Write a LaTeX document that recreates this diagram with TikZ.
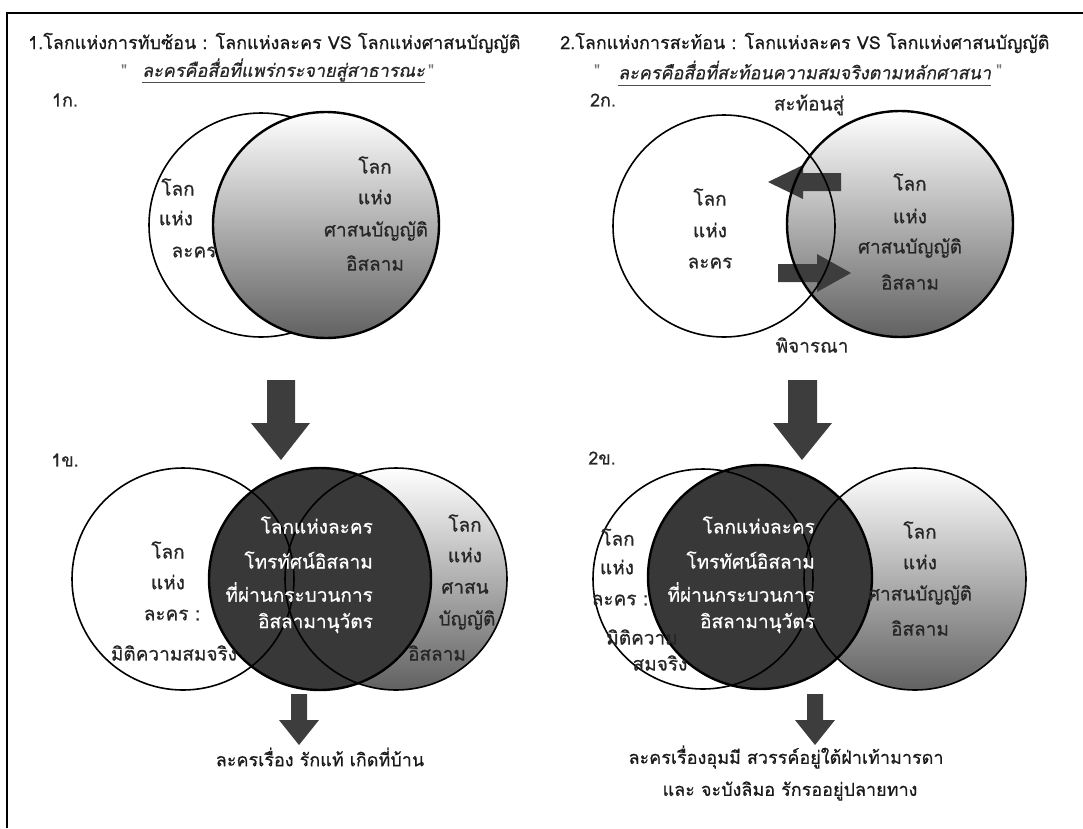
\documentclass[tikz,border=0pt]{standalone}
\usepackage{fontspec}
\newfontfamily\thf[Script=Thai,FakeBold=0.6]{Loma}
\newfontfamily\thfi[Script=Thai,FakeSlant=0.2,FakeBold=0.6]{Loma}
\begin{document}
\begin{tikzpicture}[x=1pt,y=-1pt,
  lab/.style={font=\thf\fontsize{19}{22}\selectfont, inner sep=0, text=black!85},
  wlab/.style={lab, text=white},
  head/.style={font=\thf\fontsize{18}{22}\selectfont, inner sep=0, anchor=west, text=black!90},
  sub/.style={font=\thfi\fontsize{18}{22}\selectfont, inner sep=0, text=black!85},
  quo/.style={font=\thf\fontsize{16}{19}\selectfont, inner sep=0, text=black!55},
  tag/.style={font=\thf\fontsize{18}{20}\selectfont, inner sep=0, text=black!85},
  btm/.style={font=\thf\fontsize{18}{22}\selectfont, inner sep=0, text=black!90},
  thin/.style={line width=1.6pt},
  thick/.style={line width=2.4pt},
  grayshade/.style={top color=white, bottom color=black!62},
  darkfill/.style={fill=black!78},
  blk/.style={fill=black!76, draw=none}
]
\useasboundingbox (0,0) rectangle (1083,828);
\draw[line width=2.5pt] (7,828) -- (7,13) -- (1083,13);

% headings
\node[head] (h1) at (28,43) {1.โลกแห่งการทับซ้อน : โลกแห่งละคร VS โลกแห่งศาสนบัญญัติ};
\node[head] (h2) at (560,43) {2.โลกแห่งการสะท้อน : โลกแห่งละคร VS โลกแห่งศาสนบัญญัติ};
\node[sub, anchor=west] (s1) at (142,70) {ละครคือสื่อที่แพร่กระจายสู่สาธารณะ};
\node[sub, anchor=west] (s2) at (618,70) {ละครคือสื่อที่สะท้อนความสมจริงตามหลักศาสนา};
\draw[line width=1pt, black!70] ([yshift=-6pt]s1.base west) -- ([yshift=-6pt]s1.base east);
\draw[line width=1pt, black!70] ([yshift=-6pt]s2.base west) -- ([yshift=-6pt]s2.base east);
\node[quo] (q1a) at (124,70) {"};
\node[quo] (q1b) at (431,70) {"};
\node[quo] (q2a) at (597,70) {"};
\node[quo] (q2b) at (999,70) {"};

\node[tag] (t1a) at (65,100) {1ก.};
\node[tag] (t2a) at (603,100) {2ก.};
\node[tag] (t1b) at (65,460) {1ข.};
\node[tag] (t2b) at (602,458) {2ข.};

% ---------- 1ก
\coordinate (A1) at (261,225);
\coordinate (A2) at (326,225);
\fill[white] (A1) circle (112);
\draw[thin] (A1) circle (112);
\shade[grayshade] (A2) circle (113);
\draw[thick] (A2) circle (113);
\node[lab] (a1l1) at (178,187) {โลก};
\node[lab] (a1l2) at (176,218) {แห่ง};
\node[lab] (a1l3) at (194,252) {ละคร};
\node[lab] (a2l1) at (375,165) {โลก};
\node[lab] (a2l2) at (375,197) {แห่ง};
\node[lab] (a2l3) at (376,231) {ศาสนบัญญัติ};
\node[lab] (a2l4) at (375,263) {อิสลาม};

% ---------- 2ก
\coordinate (B1) at (724,226);
\coordinate (B2) at (900,224);
\shade[grayshade] (B2) circle (113);
\fill[blk] (841,173) -- (803,173) -- (803,165) -- (768,182) -- (803,199) -- (803,191) -- (841,191) -- cycle;
\fill[blk] (778,264) -- (817,264) -- (817,254) -- (851,273) -- (817,292) -- (817,282) -- (778,282) -- cycle;
\draw[thin] (B1) circle (111);
\draw[thick] (B2) circle (113);
\node[lab] (b1l1) at (710,197) {โลก};
\node[lab] (b1l2) at (710,230) {แห่ง};
\node[lab] (b1l3) at (710,263) {ละคร};
\node[lab] (b2l1) at (910,182) {โลก};
\node[lab] (b2l2) at (910,216) {แห่ง};
\node[lab] (b2l3) at (910,248) {ศาสนบัญญัติ};
\node[lab] (b2l4) at (910,282) {อิสลาม};
\node[lab] (up) at (809,105) {สะท้อนสู่};
\node[lab] (dn) at (812,345) {พิจารณา};

% big arrows
\coordinate (AR1) at (281,380);
\coordinate (AR2) at (802,380);
\fill[blk] (AR1) ++(-14,0) -- ++(28,0) -- ++(0,43) -- ++(15,0) -- ++(-29,37) -- ++(-30,-37) -- ++(16,0) -- cycle;
\fill[blk] (AR2) ++(-14,0) -- ++(29,0) -- ++(0,43) -- ++(15,0) -- ++(-30,37) -- ++(-29,-37) -- ++(15,0) -- cycle;

% ---------- 1ข
\coordinate (C1) at (183,579);
\coordinate (C2) at (320,579);
\coordinate (C3) at (396,579);
\fill[white] (C1) circle (111);
\shade[grayshade] (C3) circle (111);
\fill[darkfill] (C2) circle (111);
\draw[thin] (C1) circle (111);
\draw[thin] (C3) circle (111);
\draw[thick] (C2) circle (111);
\node[lab] (c1l1) at (168,550) {โลก};
\node[lab] (c1l2) at (168,582) {แห่ง};
\node[lab] (c1l3) at (172,615) {ละคร :};
\node[lab] (c1l4) at (174,653) {มิติความสมจริง};
\node[wlab, anchor=east] (c2l1) at (373,525) {โลกแห่งละคร};
\node[wlab, anchor=east] (c2l2) at (373,560) {โทรทัศน์อิสลาม};
\node[wlab, anchor=east] (c2l3) at (373,592) {ที่ผ่านกระบวนการ};
\node[wlab, anchor=east] (c2l4) at (373,623) {อิสลามานุวัตร};
\node[lab] (c3l1) at (465,523) {โลก};
\node[lab] (c3l2) at (465,555) {แห่ง};
\node[lab] (c3l3) at (465,588) {ศาสน};
\node[lab] (c3l4) at (467,620) {บัญญัติ};
\node[lab] (c3l5) at (437,653) {อิสลาม};

% ---------- 2ข
\coordinate (D1) at (703,579);
\coordinate (D2) at (760,577);
\coordinate (D3) at (915,579);
\fill[white] (D1) circle (110);
\shade[grayshade] (D3) circle (111);
\fill[darkfill] (D2) circle (112);
\draw[thin] (D1) circle (110);
\draw[thin] (D3) circle (111);
\draw[thick] (D2) circle (112);
\node[lab] (d1l1) at (618,537) {โลก};
\node[lab] (d1l2) at (617,567) {แห่ง};
\node[lab] (d1l3) at (620,600) {ละคร :};
\node[lab] (d1l4) at (642,637) {มิติความ};
\node[lab] (d1l5) at (660,663) {สมจริง};
\node[wlab, anchor=east] (d2l1) at (815,525) {โลกแห่งละคร};
\node[wlab, anchor=east] (d2l2) at (815,560) {โทรทัศน์อิสลาม};
\node[wlab, anchor=east] (d2l3) at (815,592) {ที่ผ่านกระบวนการ};
\node[wlab, anchor=east] (d2l4) at (815,623) {อิสลามานุวัตร};
\node[lab] (d3l1) at (920,530) {โลก};
\node[lab] (d3l2) at (920,562) {แห่ง};
\node[lab] (d3l3) at (920,595) {ศาสนบัญญัติ};
\node[lab] (d3l4) at (920,628) {อิสลาม};

% small arrows
\coordinate (SA1) at (299,694);
\coordinate (SA2) at (815,694);
\fill[blk] (SA1) ++(-8,0) -- ++(16,0) -- ++(0,26) -- ++(12,0) -- ++(-20,25) -- ++(-20,-25) -- ++(12,0) -- cycle;
\fill[blk] (SA2) ++(-8,0) -- ++(16,0) -- ++(0,26) -- ++(12,0) -- ++(-20,25) -- ++(-20,-25) -- ++(12,0) -- cycle;

\node[btm] (r1) at (320,757) {ละครเรื่อง รักแท้ เกิดที่บ้าน};
\node[btm] (r2) at (786,757) {ละครเรื่องอุมมี สวรรค์อยู่ใต้ฝ่าเท้ามารดา};
\node[btm] (r3) at (790,791) {และ จะบังลิมอ รักรออยู่ปลายทาง};
\end{tikzpicture}
\end{document}
